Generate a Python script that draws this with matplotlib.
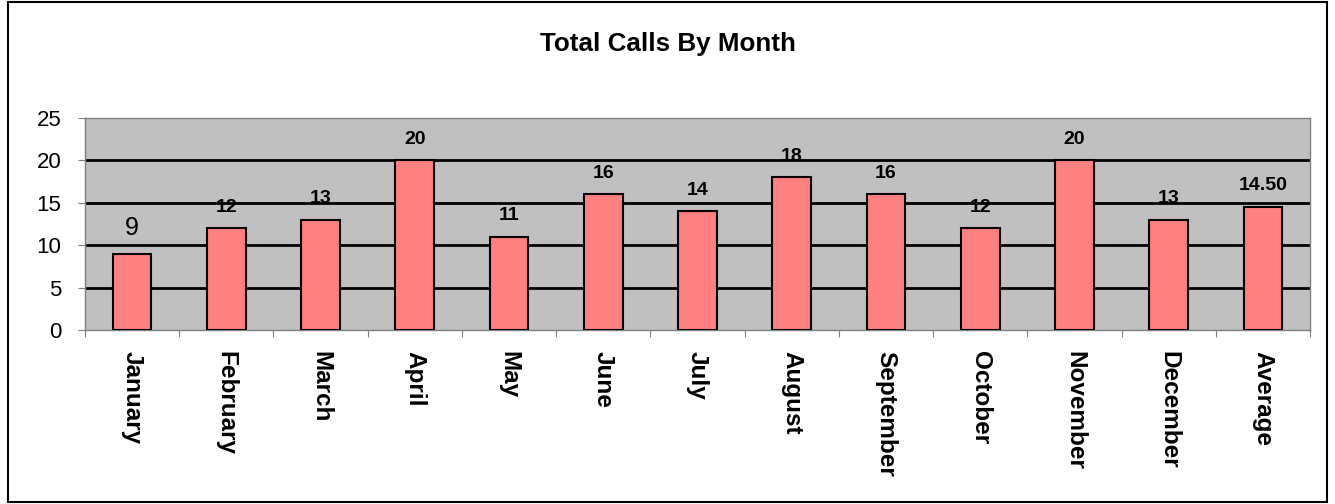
import matplotlib.pyplot as plt
from matplotlib.patches import Rectangle

months = ['January', 'February', 'March', 'April', 'May', 'June', 'July',
          'August', 'September', 'October', 'November', 'December', 'Average']
calls = [9, 12, 13, 20, 11, 16, 14, 18, 16, 12, 20, 13, 14.5]
value_labels = ['9', '12', '13', '20', '11', '16', '14', '18', '16', '12', '20', '13', '14.50']

plt.rcParams['font.family'] = ['Liberation Sans', 'DejaVu Sans']

fig = plt.figure(figsize=(13.35, 5.04), dpi=100)
fig.patches.append(Rectangle((8 / 1335, 2 / 504), 1319 / 1335, 500 / 504,
                             transform=fig.transFigure, fill=False,
                             edgecolor='black', linewidth=1.5))

ax = fig.add_axes([85 / 1335, 1 - 330 / 504, (1310 - 85) / 1335, (330 - 118) / 504])
ax.set_facecolor('#C0C0C0')

x = list(range(len(months)))
ax.bar(x, calls, width=0.41, color='#FF8080', edgecolor='black', linewidth=1.5, zorder=3)

# the first label is in plain type, the rest bold (as in the source sheet)
for xi, v, lab in zip(x, calls, value_labels):
    if lab == '9':
        ax.text(xi, v + 3.0, lab, ha='center', va='center', fontsize=18)
    else:
        ax.text(xi, v + 2.5, lab, ha='center', va='center', fontsize=14, fontweight='bold')

ax.set_xlim(-0.5, len(months) - 0.5)
ax.set_ylim(0, 25)
ax.set_yticks([0, 5, 10, 15, 20, 25])
for y in [5, 10, 15, 20]:
    ax.axhline(y, color='black', linewidth=2, zorder=2)

ax.set_xticks([i - 0.5 for i in range(len(months) + 1)])
ax.set_xticklabels([])
ax.set_xticks(x, minor=True)
ax.set_xticklabels(months, minor=True, rotation=270, fontsize=17.5, fontweight='bold',
                   va='top', ha='center')
ax.tick_params(axis='x', which='minor', length=0, pad=15)
ax.tick_params(axis='x', which='major', length=5, color='#808080')
ax.tick_params(axis='y', length=5, color='#808080', labelsize=16, pad=12)

for s in ax.spines.values():
    s.set_color('#808080')
    s.set_linewidth(1)

fig.text(0.5, 1 - 44 / 504, 'Total Calls By Month', ha='center', va='center',
         fontsize=18.7, fontweight='bold')

fig.savefig('out.png', dpi=100)
